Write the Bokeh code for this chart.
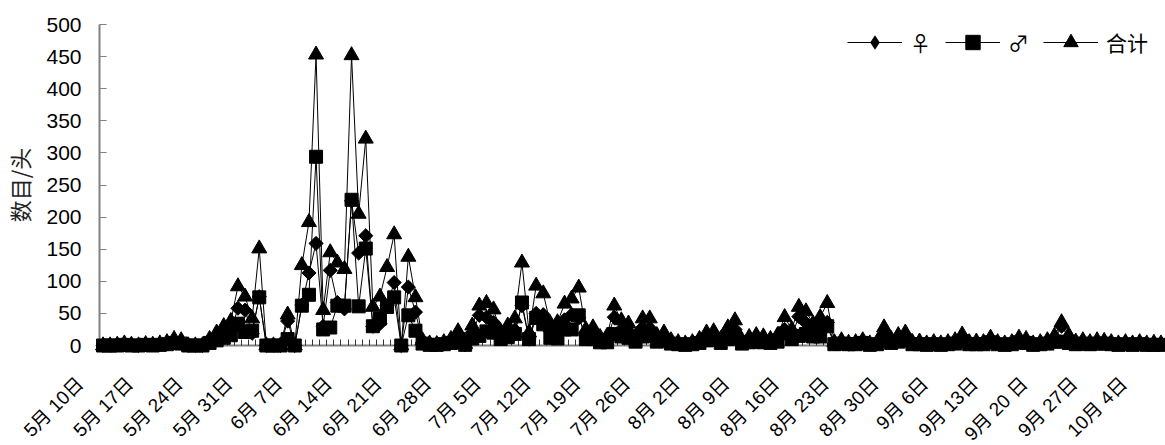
import math
from bokeh.plotting import figure
from bokeh.models import Range1d, FixedTicker, Legend, LegendItem
from bokeh.core.properties import value
from bokeh.embed import file_html
from bokeh.resources import INLINE

# daily counts, 5月10日 .. 10月6日
female = [0, 0, 1, 2, 1, 0, 1, 1, 2, 3,
          6, 5, 0, 0, 0, 6, 12, 18, 22, 58,
          55, 19, 76, 0, 0, 0, 38, 0, 63, 113,
          159, 30, 117, 67, 57, 225, 144, 171, 30, 34,
          62, 98, 0, 91, 52, 5, 2, 1, 3, 6,
          12, 1, 20, 47, 44, 36, 12, 18, 24, 62,
          10, 50, 48, 22, 25, 40, 48, 43, 15, 18,
          8, 10, 44, 25, 22, 8, 28, 27, 10, 12,
          5, 3, 2, 3, 6, 12, 13, 6, 18, 25,
          5, 8, 10, 9, 6, 10, 25, 15, 45, 35,
          20, 30, 36, 3, 5, 2, 3, 4, 2, 3,
          18, 6, 10, 12, 3, 4, 2, 3, 2, 3,
          5, 10, 3, 4, 3, 7, 3, 2, 3, 7,
          6, 2, 3, 5, 9, 30, 12, 4, 5, 3,
          5, 4, 3, 2, 3, 2, 3, 2, 3, 2]

male = [0, 0, 0, 1, 0, 0, 1, 0, 1, 2,
        4, 3, 0, 0, 0, 4, 8, 12, 16, 34,
        21, 23, 75, 0, 0, 0, 10, 0, 62, 79,
        294, 25, 28, 62, 62, 227, 61, 151, 30, 42,
        60, 75, 0, 47, 23, 3, 1, 1, 2, 4,
        10, 1, 11, 15, 22, 20, 10, 13, 18, 67,
        10, 43, 33, 12, 11, 25, 25, 47, 10, 10,
        5, 5, 18, 14, 12, 6, 14, 15, 6, 8,
        3, 2, 1, 2, 4, 8, 9, 4, 10, 14,
        3, 5, 6, 5, 4, 6, 19, 10, 15, 18,
        14, 14, 30, 2, 3, 2, 2, 4, 1, 2,
        10, 4, 6, 8, 2, 2, 1, 2, 1, 2,
        3, 7, 2, 2, 2, 5, 2, 1, 2, 5,
        4, 1, 2, 3, 6, 6, 4, 2, 3, 2,
        3, 3, 2, 1, 2, 1, 2, 1, 1, 1]

total = [0, 0, 1, 3, 1, 0, 2, 1, 3, 5,
         10, 8, 0, 0, 0, 10, 20, 30, 38, 92,
         76, 42, 151, 0, 0, 0, 48, 0, 125, 192,
         453, 55, 145, 129, 119, 452, 205, 322, 60, 76,
         122, 173, 0, 138, 75, 8, 3, 2, 5, 10,
         22, 2, 31, 62, 66, 56, 22, 31, 42, 129,
         20, 93, 81, 34, 36, 65, 73, 90, 25, 28,
         13, 15, 62, 39, 34, 14, 42, 42, 16, 20,
         8, 5, 3, 5, 10, 20, 22, 10, 28, 39,
         8, 13, 16, 14, 10, 16, 44, 25, 60, 53,
         34, 44, 66, 5, 8, 4, 5, 8, 3, 5,
         28, 10, 16, 20, 5, 6, 3, 5, 3, 5,
         8, 17, 5, 6, 5, 12, 5, 3, 5, 12,
         10, 3, 5, 8, 15, 36, 16, 6, 8, 5,
         8, 7, 5, 3, 5, 3, 5, 3, 4, 3]

tick_labels = ["5月 10日", "5月 17日", "5月 24日", "5月 31日", "6月 7日", "6月 14日",
               "6月 21日", "6月 28日", "7月 5日", "7月 12日", "7月 19日", "7月 26日",
               "8月 2日", "8月 9日", "8月 16日", "8月 23日", "8月 30日", "9月 6日",
               "9月 13日", "9月 20 日", "9月 27日", "10月 4日"]

y_ticks = [0, 50, 100, 150, 200, 250, 300, 350, 400, 450, 500]

n = len(total)
xs = list(range(n))

p = figure(frame_width=1067, frame_height=321,
           x_range=Range1d(-0.5, 149.78), y_range=Range1d(0, 500),
           output_backend="svg", toolbar_location=None,
           min_border_left=98, min_border_right=0, min_border_top=24, min_border_bottom=100)
p.outline_line_color = None
p.grid.visible = False
p.background_fill_color = "white"

AX = "#808080"
FONT = "Liberation Sans, Noto Sans CJK SC"

# y axis
p.yaxis.ticker = FixedTicker(ticks=y_ticks)
p.yaxis.axis_line_color = AX
p.yaxis.axis_line_width = 2
p.yaxis.major_tick_line_color = AX
p.yaxis.major_tick_in = 7
p.yaxis.major_tick_out = 0
p.yaxis.minor_tick_line_color = None
p.yaxis.major_label_text_font = FONT
p.yaxis.major_label_text_font_size = "21px"
p.yaxis.major_label_text_color = "black"
p.yaxis.major_label_standoff = 18
p.yaxis.axis_label = "数目/头"
p.yaxis.axis_label_text_font = "Noto Sans CJK SC"
p.yaxis.axis_label_text_font_size = "22px"
p.yaxis.axis_label_text_font_style = "normal"
p.yaxis.axis_label_text_color = "#222222"
p.yaxis.axis_label_standoff = 8

# x axis: a tick mark between every two days
p.xaxis.ticker = FixedTicker(ticks=[], minor_ticks=[k - 0.5 for k in range(n + 1)])
p.xaxis.axis_line_color = AX
p.xaxis.axis_line_width = 2
p.xaxis.major_tick_in = 0
p.xaxis.major_tick_out = 0
p.xaxis.minor_tick_in = 6
p.xaxis.minor_tick_out = 0
p.xaxis.minor_tick_line_color = "#333333"

# date labels every 7 days, rotated, hanging below the axis
label_days = [k * 7 for k in range(len(tick_labels))]
p.text(x=label_days, y=[0] * len(label_days), text=tick_labels,
       angle=math.pi / 4, text_align="right", text_baseline="middle",
       x_offset=-23, y_offset=35,
       text_font=value(FONT), text_font_size=value("19px"), text_color="black",
       level="overlay")

lf = p.line(xs, female, line_color="black", line_width=1, level="overlay")
mf = p.scatter(xs, female, marker="square", angle=math.pi / 4, size=10, color="black", level="overlay")
lm = p.line(xs, male, line_color="black", line_width=1, level="overlay")
mm = p.scatter(xs, male, marker="square", size=13, color="black", level="overlay")
lt = p.line(xs, total, line_color="black", line_width=1, level="overlay")
mt = p.scatter(xs, total, marker="triangle", size=15, color="black", level="overlay")
# legend proxy: legend markers ignore the glyph angle, so show a diamond there
kf = p.scatter(xs, female, marker="diamond", size=0, fill_color="black", line_color=None)

legend = Legend(items=[LegendItem(label="♀", renderers=[lf, kf]),
                       LegendItem(label="♂", renderers=[lm, mm]),
                       LegendItem(label="合计", renderers=[lt, mt])],
                orientation="horizontal", location=(748, 285),
                glyph_width=55, glyph_height=36, label_standoff=8, spacing=14,
                padding=0, margin=0, border_line_color=None, background_fill_alpha=0,
                label_text_font="Noto Sans CJK SC", label_text_font_size="21px",
                label_text_color="black")
p.add_layout(legend)

open("out.html", "w").write(file_html(p, INLINE))
